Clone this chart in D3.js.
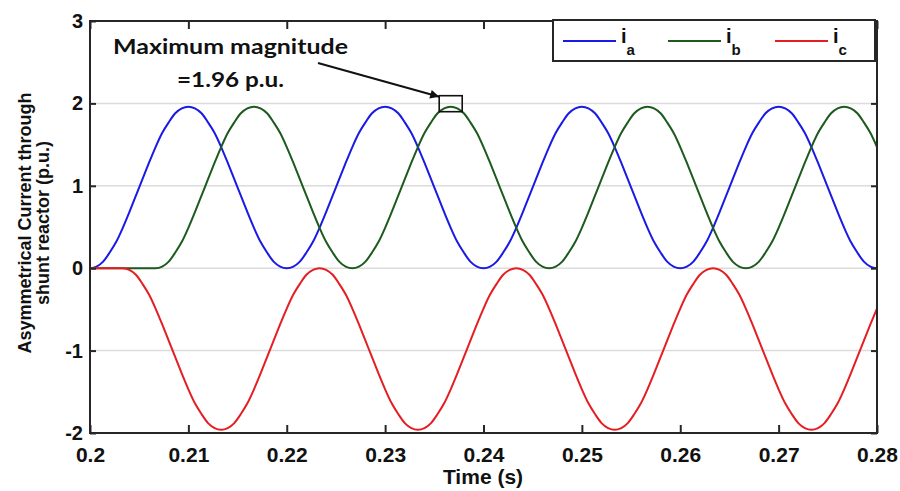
<!DOCTYPE html>
<html>
<head>
<meta charset="utf-8">
<script src="https://cdn.jsdelivr.net/npm/d3@7"></script>
<style>
  body { margin: 0; background: #fff; }
  svg { display: block; }
</style>
</head>
<body>
<svg id="chart" width="900" height="491"></svg>
<script>
// Sampling grid: one sample every 1/1500 s starting at 0.2 s
const tStart = 0.2;
const tStep = 1 / 1500;

// Phase currents through the shunt reactor (p.u.)
const iA = [
  0, 0.02, 0.08, 0.19, 0.32, 0.49, 0.68, 0.88, 1.08, 1.28, 1.47, 1.64, 1.77, 1.88, 1.94, 1.96, 1.94, 1.88, 1.77, 1.64, 1.47, 1.28, 1.08, 0.88, 0.68, 0.49, 0.32, 0.19, 0.08, 0.02,
  0, 0.02, 0.08, 0.19, 0.32, 0.49, 0.68, 0.88, 1.08, 1.28, 1.47, 1.64, 1.77, 1.88, 1.94, 1.96, 1.94, 1.88, 1.77, 1.64, 1.47, 1.28, 1.08, 0.88, 0.68, 0.49, 0.32, 0.19, 0.08, 0.02,
  0, 0.02, 0.08, 0.19, 0.32, 0.49, 0.68, 0.88, 1.08, 1.28, 1.47, 1.64, 1.77, 1.88, 1.94, 1.96, 1.94, 1.88, 1.77, 1.64, 1.47, 1.28, 1.08, 0.88, 0.68, 0.49, 0.32, 0.19, 0.08, 0.02,
  0, 0.02, 0.08, 0.19, 0.32, 0.49, 0.68, 0.88, 1.08, 1.28, 1.47, 1.64, 1.77, 1.88, 1.94, 1.96, 1.94, 1.88, 1.77, 1.64, 1.47, 1.28, 1.08, 0.88, 0.68, 0.49, 0.32, 0.19, 0.08, 0.02,
  0
];
const iB = [
  0, 0, 0, 0, 0, 0, 0, 0, 0, 0,
  0, 0.02, 0.08, 0.19, 0.32, 0.49, 0.68, 0.88, 1.08, 1.28, 1.47, 1.64, 1.77, 1.88, 1.94, 1.96, 1.94, 1.88, 1.77, 1.64, 1.47, 1.28, 1.08, 0.88, 0.68, 0.49, 0.32, 0.19, 0.08, 0.02,
  0, 0.02, 0.08, 0.19, 0.32, 0.49, 0.68, 0.88, 1.08, 1.28, 1.47, 1.64, 1.77, 1.88, 1.94, 1.96, 1.94, 1.88, 1.77, 1.64, 1.47, 1.28, 1.08, 0.88, 0.68, 0.49, 0.32, 0.19, 0.08, 0.02,
  0, 0.02, 0.08, 0.19, 0.32, 0.49, 0.68, 0.88, 1.08, 1.28, 1.47, 1.64, 1.77, 1.88, 1.94, 1.96, 1.94, 1.88, 1.77, 1.64, 1.47, 1.28, 1.08, 0.88, 0.68, 0.49, 0.32, 0.19, 0.08, 0.02,
  0, 0.02, 0.08, 0.19, 0.32, 0.49, 0.68, 0.88, 1.08, 1.28, 1.47, 1.64, 1.77, 1.88, 1.94, 1.96, 1.94, 1.88, 1.77, 1.64, 1.47
];
const iC = [
  0, 0, 0, 0, 0,
  0, -0.02, -0.08, -0.19, -0.32, -0.49, -0.68, -0.88, -1.08, -1.28, -1.47, -1.64, -1.77, -1.88, -1.94, -1.96, -1.94, -1.88, -1.77, -1.64, -1.47, -1.28, -1.08, -0.88, -0.68, -0.49, -0.32, -0.19, -0.08, -0.02,
  0, -0.02, -0.08, -0.19, -0.32, -0.49, -0.68, -0.88, -1.08, -1.28, -1.47, -1.64, -1.77, -1.88, -1.94, -1.96, -1.94, -1.88, -1.77, -1.64, -1.47, -1.28, -1.08, -0.88, -0.68, -0.49, -0.32, -0.19, -0.08, -0.02,
  0, -0.02, -0.08, -0.19, -0.32, -0.49, -0.68, -0.88, -1.08, -1.28, -1.47, -1.64, -1.77, -1.88, -1.94, -1.96, -1.94, -1.88, -1.77, -1.64, -1.47, -1.28, -1.08, -0.88, -0.68, -0.49, -0.32, -0.19, -0.08, -0.02,
  0, -0.02, -0.08, -0.19, -0.32, -0.49, -0.68, -0.88, -1.08, -1.28, -1.47, -1.64, -1.77, -1.88, -1.94, -1.96, -1.94, -1.88, -1.77, -1.64, -1.47, -1.28, -1.08, -0.88, -0.68, -0.49
];

const seriesKeys = ["a", "b", "c"];
const seriesColors = ["#1a1ae6", "#1d5a1d", "#e41e22"];

const xTicks = [0.2, 0.21, 0.22, 0.23, 0.24, 0.25, 0.26, 0.27, 0.28];
const xTickLabels = ["0.2", "0.21", "0.22", "0.23", "0.24", "0.25", "0.26", "0.27", "0.28"];
const yTicks = [-2, -1, 0, 1, 2, 3];
const yTickLabels = ["-2", "-1", "0", "1", "2", "3"];
const gridValues = [-1, 0, 1, 2];

const peakValue = 1.96;
const annotationLines = ["Maximum magnitude", "=1.96 p.u."];

// ---- layout ----
const svg = d3.select("#chart");
const plot = { left: 90, right: 877, top: 21, bottom: 433 };

const x = d3.scaleLinear().domain([0.2, 0.28]).range([plot.left, plot.right]);
const y = d3.scaleLinear().domain([-2, 3]).range([plot.bottom, plot.top]);

const axisColor = "#262626";
const fontArial = "'Liberation Sans', Arial, sans-serif";

// horizontal grid
svg.append("g")
  .selectAll("line")
  .data(gridValues)
  .join("line")
  .attr("x1", plot.left).attr("x2", plot.right)
  .attr("y1", d => y(d)).attr("y2", d => y(d))
  .attr("stroke", "#dcdcdc")
  .attr("stroke-width", 1.5);

// curves
const series = [iA, iB, iC];
const line = d3.line()
  .x((d, i) => x(tStart + i * tStep))
  .y(d => y(d))
  .curve(d3.curveMonotoneX);

svg.append("g")
  .attr("fill", "none")
  .selectAll("path")
  .data(series)
  .join("path")
  .attr("d", d => line(d))
  .attr("stroke", (d, i) => seriesColors[i])
  .attr("stroke-width", 2);

// axes with inward ticks on all four sides
const xTickLen = 8, yTickLen = 6;
function styleAxis(g) {
  g.select(".domain").remove();
  g.selectAll(".tick line").attr("stroke", axisColor).attr("stroke-width", 2);
}

const gx = svg.append("g")
  .attr("transform", `translate(0,${plot.bottom})`)
  .call(d3.axisBottom(x).tickValues(xTicks).tickSize(-xTickLen)
    .tickFormat((d, i) => xTickLabels[i]));
styleAxis(gx);
gx.selectAll(".tick text")
  .attr("y", 29).attr("dy", 0)
  .attr("fill", "#111")
  .style("font-family", fontArial)
  .style("font-weight", "bold")
  .style("font-size", "21px");

const gxTop = svg.append("g")
  .attr("transform", `translate(0,${plot.top})`)
  .call(d3.axisTop(x).tickValues(xTicks).tickSize(-xTickLen).tickFormat(""));
styleAxis(gxTop);

const gy = svg.append("g")
  .attr("transform", `translate(${plot.left},0)`)
  .call(d3.axisLeft(y).tickValues(yTicks).tickSize(-yTickLen)
    .tickFormat((d, i) => yTickLabels[i]));
styleAxis(gy);
gy.selectAll(".tick text")
  .attr("x", -7)
  .attr("fill", "#111")
  .style("font-family", fontArial)
  .style("font-weight", "bold")
  .style("font-size", "20px");

const gyRight = svg.append("g")
  .attr("transform", `translate(${plot.right},0)`)
  .call(d3.axisRight(y).tickValues(yTicks).tickSize(-yTickLen).tickFormat(""));
styleAxis(gyRight);

// frame
svg.append("rect")
  .attr("x", plot.left).attr("y", plot.top)
  .attr("width", plot.right - plot.left).attr("height", plot.bottom - plot.top)
  .attr("fill", "none")
  .attr("stroke", axisColor)
  .attr("stroke-width", 2);

// axis titles
svg.append("text")
  .attr("x", 483).attr("y", 484)
  .attr("text-anchor", "middle")
  .attr("fill", "#111")
  .style("font-family", fontArial)
  .style("font-weight", "bold")
  .style("font-size", "21px")
  .text("Time (s)");

const yTitle = svg.append("g")
  .attr("transform", "translate(0,223) rotate(-90)")
  .attr("text-anchor", "middle")
  .attr("fill", "#111")
  .style("font-family", fontArial)
  .style("font-weight", "bold")
  .style("font-size", "18px");
yTitle.append("text").attr("x", 0).attr("y", 31).text("Asymmetrical Current through");
yTitle.append("text").attr("x", 0).attr("y", 49).text("shunt reactor (p.u.)");

// legend
const legend = svg.append("g");
legend.append("rect")
  .attr("x", 553).attr("y", 20)
  .attr("width", 322).attr("height", 41)
  .attr("fill", "#fff")
  .attr("stroke", axisColor)
  .attr("stroke-width", 2);

const legendX = [563, 668, 775];
const legendItem = legend.selectAll("g.item")
  .data(seriesKeys)
  .join("g")
  .attr("class", "item")
  .attr("transform", (d, i) => `translate(${legendX[i]},0)`);
legendItem.append("line")
  .attr("x1", 0).attr("x2", 53)
  .attr("y1", 41).attr("y2", 41)
  .attr("stroke", (d, i) => seriesColors[i])
  .attr("stroke-width", 2);
const legendText = legendItem.append("text")
  .attr("x", 58).attr("y", 43)
  .attr("fill", "#111")
  .style("font-family", fontArial)
  .style("font-weight", "bold")
  .style("font-size", "20px");
legendText.append("tspan").text("i");
legendText.append("tspan")
  .attr("dy", 12)
  .style("font-size", "15px")
  .text(d => d);

// annotation: box around the phase-b peak in its second cycle, arrow and text
const searchFrom = 40, searchTo = 70;
const peakIdx = searchFrom + d3.maxIndex(iB.slice(searchFrom, searchTo));
const px = x(tStart + peakIdx * tStep);
const py = y(peakValue);
const boxW = 23, boxH = 16;

svg.append("rect")
  .attr("x", px - boxW / 2).attr("y", py - boxH / 2 - 3)
  .attr("width", boxW).attr("height", boxH)
  .attr("fill", "none")
  .attr("stroke", "#111")
  .attr("stroke-width", 1.6);

svg.append("defs").append("marker")
  .attr("id", "arrowHead")
  .attr("viewBox", "0 0 10 10")
  .attr("refX", 10).attr("refY", 5)
  .attr("markerWidth", 13).attr("markerHeight", 9)
  .attr("markerUnits", "userSpaceOnUse")
  .attr("orient", "auto")
  .append("path")
  .attr("d", "M0,0 L10,5 L0,10 Z")
  .attr("fill", "#111");

svg.append("line")
  .attr("x1", 318).attr("y1", 63)
  .attr("x2", px - boxW / 2).attr("y2", py - boxH / 2 - 2)
  .attr("stroke", "#111")
  .attr("stroke-width", 2)
  .attr("marker-end", "url(#arrowHead)");

const annot = svg.append("g")
  .attr("text-anchor", "middle")
  .attr("fill", "#111")
  .style("font-family", "Lato, 'Open Sans', sans-serif")
  .style("font-weight", "bold")
  .style("font-size", "20px");
annot.append("text").attr("x", 230.5).attr("y", 54)
  .attr("textLength", 235).attr("lengthAdjust", "spacingAndGlyphs")
  .text(annotationLines[0]);
annot.append("text").attr("x", 230.5).attr("y", 87)
  .attr("textLength", 107).attr("lengthAdjust", "spacingAndGlyphs")
  .text(annotationLines[1]);
</script>
</body>
</html>
